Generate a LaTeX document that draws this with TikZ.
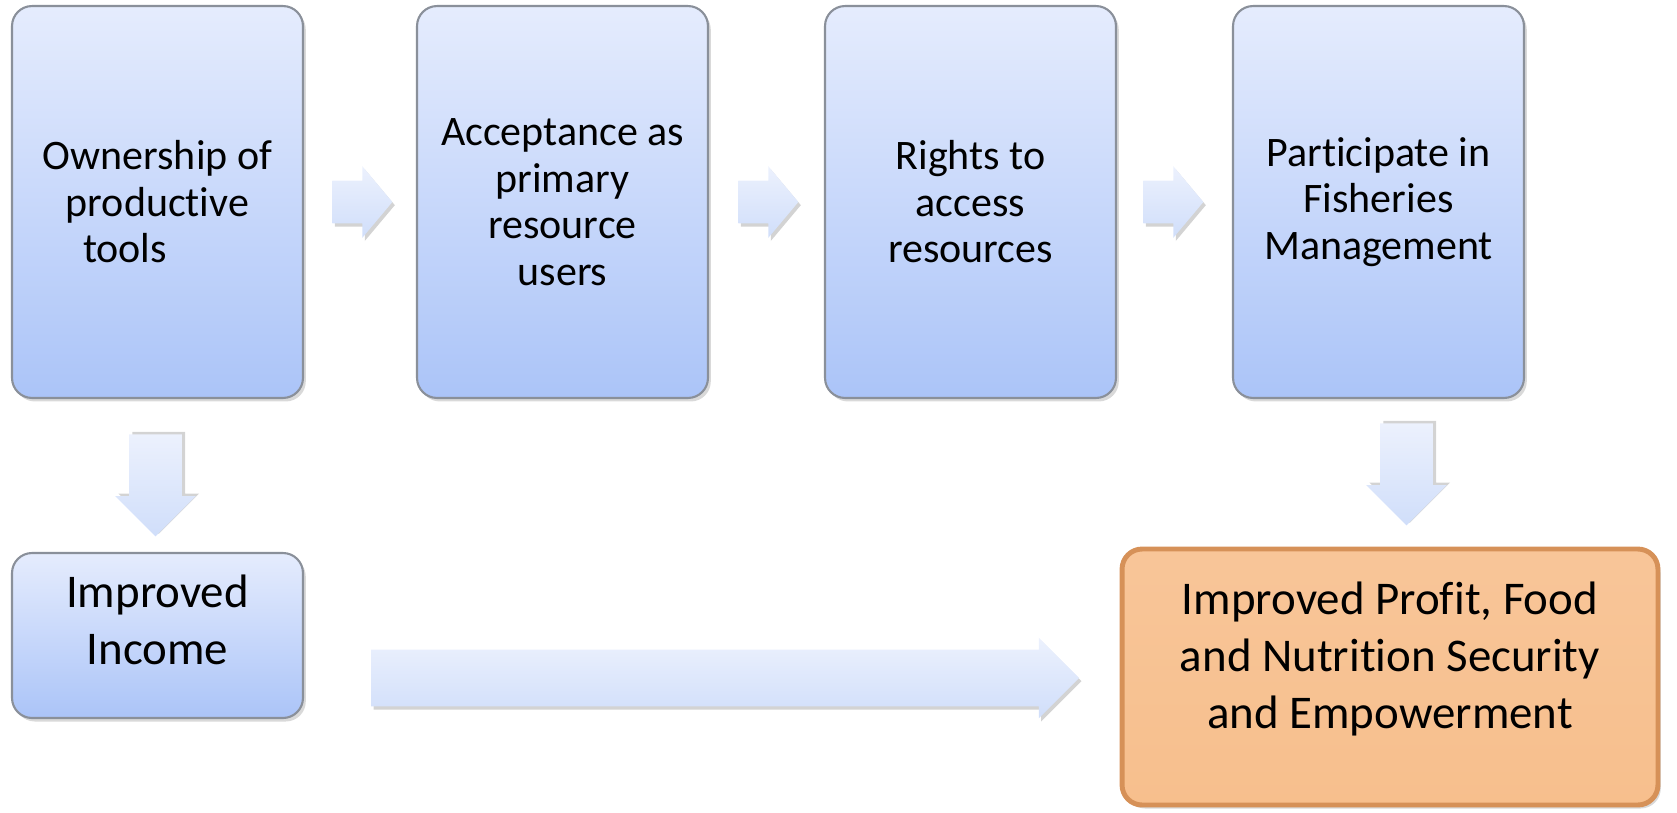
\documentclass[tikz,border=0pt]{standalone}
\usepackage{fontspec}
\setmainfont{Carlito}[Ligatures=NoCommon]
\usepackage{tikz}
\usepackage{xcolor}
\usetikzlibrary{positioning}
\usetikzlibrary{shapes.arrows, shadows, calc}

\definecolor{boxtop}{RGB}{229,236,253}
\definecolor{boxbot}{RGB}{171,196,248}
\definecolor{boxline}{RGB}{138,144,154}
\definecolor{arrlight}{RGB}{236,241,253}
\definecolor{arrdark}{RGB}{208,222,250}
\definecolor{gainfill}{RGB}{247,191,141}
\definecolor{gainline}{RGB}{214,145,88}

\tikzset{
	stage/.style={draw=boxline, line width=1.2pt, rounded corners=0.4cm, top color=boxtop, bottom color=boxbot, inner sep=0pt, align=center, drop shadow={shadow xshift=1.6pt, shadow yshift=-2pt, opacity=0.3}},
	rarrow/.style={single arrow, single arrow head extend=0.29cm, single arrow tip angle=100, minimum height=1.2cm, minimum width=1.42cm, inner xsep=0pt, inner ysep=0.42cm, top color=arrlight, bottom color=arrdark, drop shadow={shadow xshift=1.4pt, shadow yshift=-1.8pt, opacity=0.35}},
	darrow/.style={single arrow, rotate=-90, single arrow head extend=0.28cm, single arrow tip angle=90, minimum height=2.04cm, minimum width=1.6cm, inner xsep=0pt, inner ysep=0.52cm, top color=arrlight, bottom color=arrdark, drop shadow={shadow xshift=1.8pt, shadow yshift=1.4pt, opacity=0.35}}
}

\begin{document}
\begin{tikzpicture}[x=0.02cm, y=-0.02cm]
	\useasboundingbox (0,0) rectangle (1677,812);

	% top row of steps
	\node[stage, minimum width=5.82cm, minimum height=7.84cm, font=\fontsize{23.9}{26.5}\selectfont] at (157.5, 202) (own) {Ownership of\\productive\\tools\hspace*{1.3cm}};
	\node[stage, minimum width=5.82cm, minimum height=7.84cm, font=\fontsize{23.9}{26.5}\selectfont] at (562.5, 202) (accept) {Acceptance as\\primary\\resource\\users};
	\node[stage, minimum width=5.82cm, minimum height=7.84cm, font=\fontsize{23.9}{26.5}\selectfont] at (970.5, 202) (rights) {Rights to\\access\\resources};
	\node[stage, minimum width=5.82cm, minimum height=7.84cm, font=\fontsize{23.9}{26.5}\selectfont] at (1378.5, 202) (part) {Participate in\\Fisheries\\Management};

	% bottom row
	\node[stage, minimum width=5.82cm, minimum height=3.3cm, text depth=0.64cm, font=\fontsize{26.7}{32.4}\selectfont] at (157.5, 635.5) (income) {Improved\\Income};
	\node[stage, draw=gainline, line width=2.8pt, top color=gainfill!90!white, bottom color=gainfill, minimum width=10.72cm, minimum height=5.12cm, text depth=0.86cm, font=\fontsize{26.7}{32.4}\selectfont] at (1390, 677) (gain) {Improved Profit, Food\\and Nutrition Security\\and Empowerment};

	% block arrows
	\node[rarrow, anchor=tail] at ($(own.east)+(28,0)$) (a1) {};
	\node[rarrow, anchor=tail] at ($(accept.east)+(29,0)$) (a2) {};
	\node[rarrow, anchor=tail] at ($(rights.east)+(26,0)$) (a3) {};
	\node[darrow, anchor=tail] at ($(own.south)+(-2,35)$) (d1) {};
	\node[darrow, anchor=tail] at ($(part.south)+(28,24)$) (d2) {};
	\node[rarrow, single arrow head extend=0.24cm, single arrow tip angle=90, minimum height=14.16cm, minimum width=1.6cm, inner ysep=0.56cm, anchor=tip] at ($(gain.west)+(-40,1)$) (long) {};

\end{tikzpicture}
\end{document}
